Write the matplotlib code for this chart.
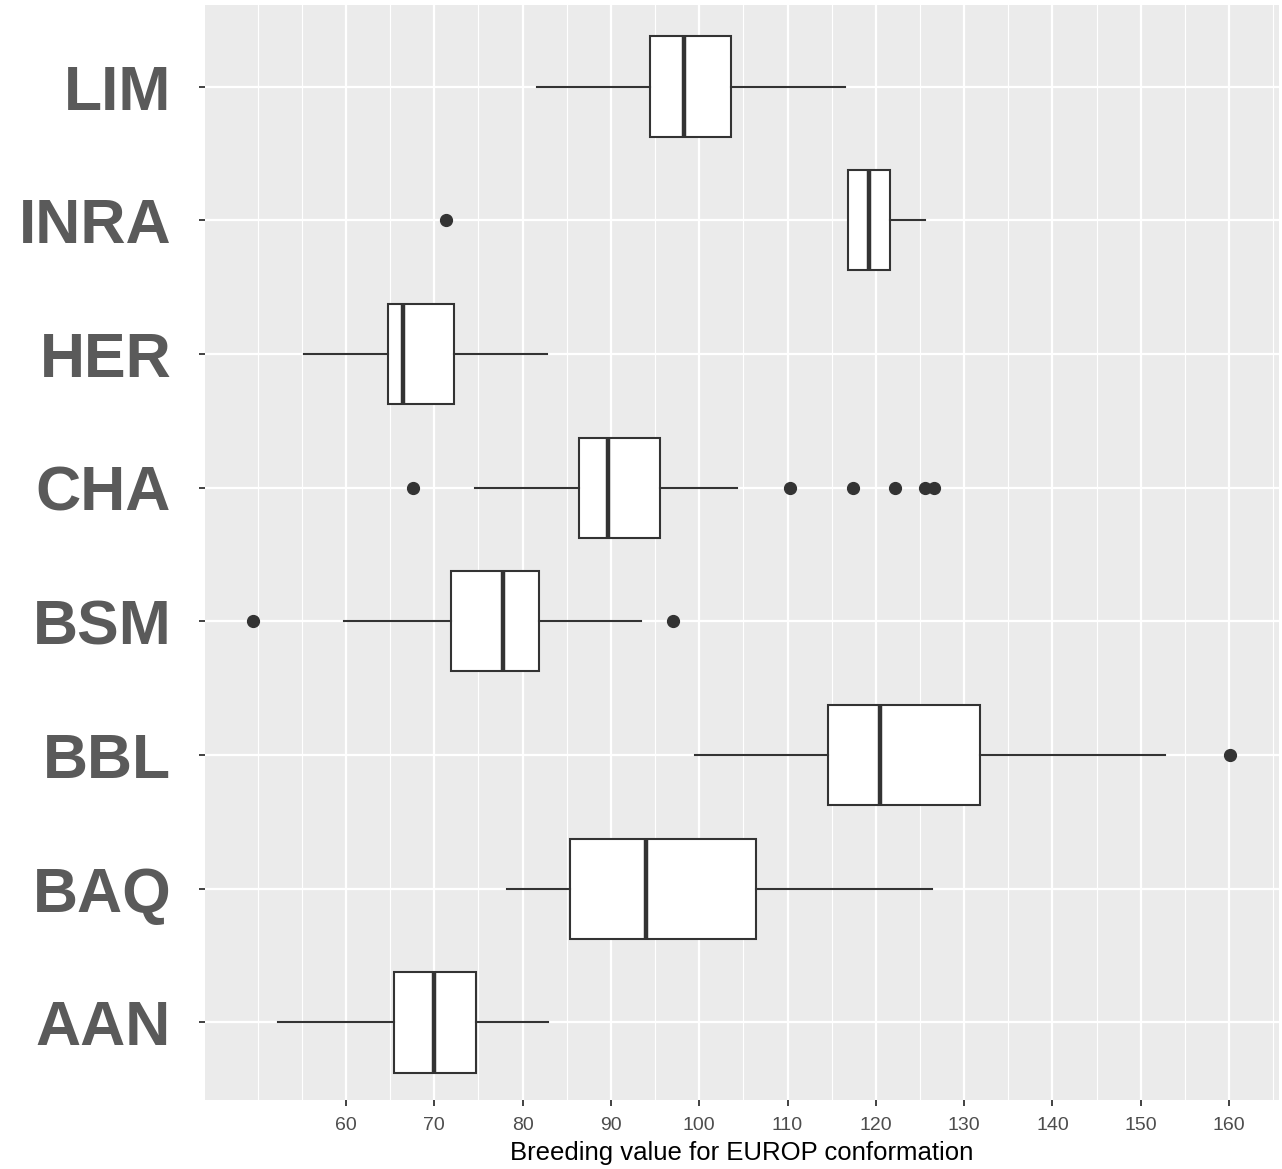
import matplotlib
matplotlib.use("Agg")
from matplotlib import pyplot as plt
from matplotlib.ticker import MultipleLocator, FixedLocator

# 品种（从下往上）
breeds = ["AAN", "BAQ", "BBL", "BSM", "CHA", "HER", "INRA", "LIM"]

# 箱线图统计量：下须, Q1, 中位数, Q3, 上须
whislo = [52.3, 78.2, 99.5, 59.8, 74.6, 55.2, 116.9, 81.6]
q1 = [65.4, 85.4, 114.6, 71.9, 86.4, 64.8, 116.9, 94.4]
med = [70.0, 94.0, 120.5, 77.8, 89.7, 66.5, 119.2, 98.3]
q3 = [74.7, 106.4, 131.8, 81.9, 95.6, 72.2, 121.6, 103.6]
whishi = [82.9, 126.4, 152.8, 93.4, 104.3, 82.8, 125.6, 116.5]

# 离群点
fliers = [
    [],
    [],
    [160.1],
    [49.5, 97.0],
    [67.6, 110.3, 117.4, 122.2, 125.6, 126.6],
    [],
    [71.3],
    [],
]

x_ticks = [60, 70, 80, 90, 100, 110, 120, 130, 140, 150, 160]
x_label = "Breeding value for EUROP conformation"

stats = []
for i in range(len(breeds)):
    stats.append(dict(whislo=whislo[i], q1=q1[i], med=med[i], q3=q3[i],
                      whishi=whishi[i], fliers=fliers[i], label=breeds[i]))

fig = plt.figure(figsize=(12.82, 11.69), dpi=100)
ax = fig.add_axes([205 / 1282, 69 / 1169, 1074 / 1282, 1095 / 1169])
ax.set_facecolor("#ebebeb")

edge = "#333333"
ax.bxp(stats, positions=range(1, len(breeds) + 1), vert=False, widths=0.75,
       patch_artist=True, showcaps=False,
       boxprops=dict(facecolor="white", edgecolor=edge, linewidth=1.5),
       whiskerprops=dict(color=edge, linewidth=1.5),
       medianprops=dict(color=edge, linewidth=3.2),
       flierprops=dict(marker="o", markerfacecolor=edge, markeredgecolor=edge,
                       markersize=8.5),
       zorder=3)

ax.set_xlim(44.03, 165.66)
ax.set_ylim(0.42, 8.61)

ax.xaxis.set_major_locator(FixedLocator(x_ticks))
ax.xaxis.set_minor_locator(FixedLocator([50, 55, 65, 75, 85, 95, 105, 115, 125,
                                          135, 145, 155, 165]))
ax.set_yticks(range(1, len(breeds) + 1))
ax.set_yticklabels(breeds)

ax.grid(which="major", color="white", linewidth=1.6, zorder=0)
ax.grid(which="minor", axis="x", color="white", linewidth=0.8, zorder=0)
ax.set_axisbelow(True)

for s in ax.spines.values():
    s.set_visible(False)

ax.tick_params(axis="x", which="major", length=4.3, width=1.3, color=edge,
               labelsize=14, labelcolor="#4d4d4d", pad=8)
ax.tick_params(axis="x", which="minor", length=0)
ax.tick_params(axis="y", length=4.3, width=1.3, color=edge, pad=20)
for t in ax.get_yticklabels():
    t.set_fontfamily("Liberation Sans")
    t.set_fontweight("bold")
    t.set_fontsize(45)
    t.set_color("#5a5a5a")
for t in ax.get_xticklabels():
    t.set_fontfamily("Liberation Sans")

ax.set_xlabel(x_label, fontsize=18.5, fontfamily="Liberation Sans", color="black",
              labelpad=5)

fig.savefig("out.png", dpi=100)
